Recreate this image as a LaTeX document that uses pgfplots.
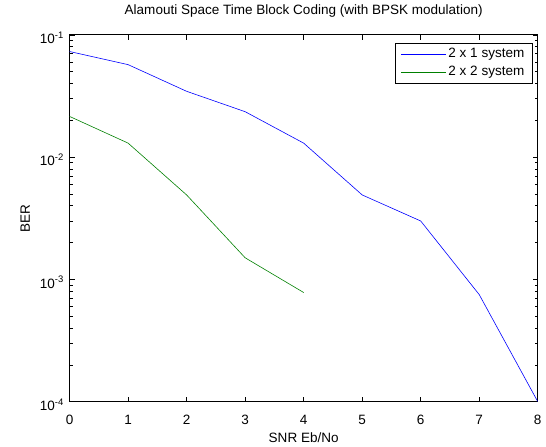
\documentclass[border=0pt]{standalone}
\usepackage{fontspec}
\setmainfont{Liberation Sans}
\usepackage{pgfplots}
\pgfplotsset{compat=1.18}
\definecolor{mblue}{rgb}{0,0,1}
\definecolor{mgreen}{rgb}{0,0.5,0}
\begin{document}
\fontsize{13.6}{16}\selectfont
\begin{tikzpicture}
\begin{axis}[
    scale only axis,
    width=471pt,
    height=369pt,
    ymode=log,
    xmin=0, xmax=8,
    ymin=1e-4, ymax=1e-1,
    xtick={0,1,2,3,4,5,6,7,8},
    ytick={1e-4,1e-3,1e-2,1e-1},
    yticklabels={10\textsuperscript{-4},10\textsuperscript{-3},10\textsuperscript{-2},10\textsuperscript{-1}},
    minor ytick={2e-4,3e-4,4e-4,5e-4,6e-4,7e-4,8e-4,9e-4,
                 2e-3,3e-3,4e-3,5e-3,6e-3,7e-3,8e-3,9e-3,
                 2e-2,3e-2,4e-2,5e-2,6e-2,7e-2,8e-2,9e-2},
    /pgf/number format/assume math mode=true,
    xticklabel style={yshift=-9pt},
    yticklabel style={xshift=-1pt, yshift=-3pt},
    major tick length=5pt,
    minor tick length=3pt,
    tick style={black, line width=0.5pt},
    axis line style={black, line width=0.6pt},
    xlabel={SNR Eb/No},
    ylabel={BER},
    title={Alamouti Space Time Block Coding (with BPSK modulation)},
    xlabel style={at={(axis description cs:0.5,-0.098)}, anchor=center},
    ylabel style={at={(axis description cs:-0.095,0.5)}, anchor=center},
    title style={at={(axis description cs:0.5,1.049)}, anchor=center},
    legend style={at={(0.989,0.978)}, anchor=north east, draw=black,
        line width=0.6pt, cells={anchor=west}, row sep=3pt,
        inner xsep=6pt, inner ysep=3pt},
    legend image code/.code={\draw[#1] (0pt,0pt) -- (45pt,0pt);},
]
\addplot[mblue, line width=0.6pt] coordinates {
    (0,0.073)(1,0.057)(2,0.0345)(3,0.0235)(4,0.013)
    (5,0.0049)(6,0.0030)(7,0.00075)(8,0.0001)
};
\addlegendentry{2 x 1 system}
\addplot[mgreen, line width=0.6pt] coordinates {
    (0,0.0215)(1,0.013)(2,0.0049)(3,0.0015)(4,0.00078)
};
\addlegendentry{2 x 2 system}
\coordinate (bl) at (rel axis cs:0,0);
\coordinate (tr) at (rel axis cs:1,1);
\end{axis}
\path ([xshift=-70pt,yshift=-43pt]bl) rectangle ([xshift=5pt,yshift=35pt]tr);
\end{tikzpicture}
\end{document}
